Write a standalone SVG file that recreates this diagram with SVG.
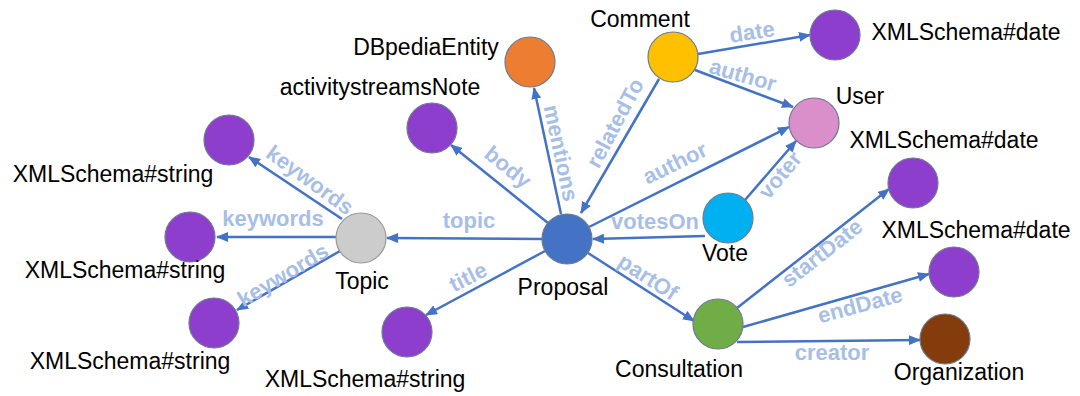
<svg xmlns="http://www.w3.org/2000/svg" width="1080" height="396" viewBox="0 0 1080 396">
<defs>
<style>
.e{stroke:#4472c4;stroke-width:2.5;fill:none;marker-end:url(#ah)}
.el{font-family:"Liberation Sans",Arial,sans-serif;font-weight:bold;font-size:22px;fill:#a7bfe6;text-anchor:middle;dominant-baseline:central}
.nl{font-family:"Liberation Sans",Arial,sans-serif;font-size:23px;fill:#000;text-anchor:middle}
circle{stroke:#6b7a90;stroke-width:1.2}
.str{fill:#8e3ecc}
</style>
<marker id="ah" viewBox="0 0 12 10" refX="11" refY="5" markerWidth="12" markerHeight="10" markerUnits="userSpaceOnUse" orient="auto">
<path d="M0,0 L12,5 L0,10 z" fill="#4472c4"/>
</marker>
</defs>
<rect width="1080" height="396" fill="#fff"/>
<g id="connectors">
<line class="e" x1="342" y1="219" x2="249" y2="157"/>
<line class="e" x1="336" y1="237" x2="217" y2="237"/>
<line class="e" x1="340" y1="251" x2="237" y2="310"/>
<line class="e" x1="542" y1="239" x2="387" y2="238"/>
<line class="e" x1="548" y1="223" x2="451" y2="145"/>
<line class="e" x1="561" y1="214" x2="534" y2="88"/>
<line class="e" x1="659" y1="79" x2="581" y2="213"/>
<line class="e" x1="589" y1="227" x2="789" y2="127"/>
<line class="e" x1="705" y1="236" x2="593" y2="239"/>
<line class="e" x1="745" y1="200" x2="796" y2="141"/>
<line class="e" x1="698" y1="54" x2="810" y2="35"/>
<line class="e" x1="695" y1="70" x2="793" y2="107"/>
<line class="e" x1="545" y1="251" x2="426" y2="315"/>
<line class="e" x1="588" y1="253" x2="694" y2="321"/>
<line class="e" x1="737" y1="308" x2="889" y2="189"/>
<line class="e" x1="743" y1="327" x2="929" y2="274"/>
<line class="e" x1="737" y1="342" x2="920" y2="340"/>
<text class="el" transform="translate(310,180) rotate(36)">keywords</text>
<text class="el" x="273" y="218">keywords</text>
<text class="el" transform="translate(283,275) rotate(-31)">keywords</text>
<text class="el" x="469" y="220">topic</text>
<text class="el" transform="translate(468,277) rotate(-27)">title</text>
<text class="el" transform="translate(508,167) rotate(39)">body</text>
<text class="el" transform="translate(561,153) rotate(78)">mentions</text>
<text class="el" transform="translate(615,123) rotate(-62)">relatedTo</text>
<text class="el" transform="translate(675,163) rotate(-26)">author</text>
<text class="el" x="655" y="221">votesOn</text>
<text class="el" transform="translate(780,175) rotate(-50)">voter</text>
<text class="el" transform="translate(752,32) rotate(-9)">date</text>
<text class="el" transform="translate(743,75) rotate(16)">author</text>
<text class="el" transform="translate(648,277) rotate(33)">partOf</text>
<text class="el" transform="translate(822,253) rotate(-38)">startDate</text>
<text class="el" transform="translate(860,305) rotate(-15)">endDate</text>
<text class="el" x="832" y="352">creator</text>
</g>
<g id="proposal"><circle cx="567" cy="239" r="25" fill="#4472c4"/><text class="nl" x="563" y="295">Proposal</text></g>
<g id="topic"><circle cx="361" cy="238" r="25" fill="#cccccc" style="stroke:#999"/><text class="nl" x="362" y="289">Topic</text></g>
<g id="kw1"><circle class="str" cx="229" cy="140" r="25"/><text class="nl" x="113" y="182">XMLSchema#string</text></g>
<g id="kw2"><circle class="str" cx="190" cy="237" r="25"/><text class="nl" x="125" y="278">XMLSchema#string</text></g>
<g id="kw3"><circle class="str" cx="214" cy="323" r="25"/><text class="nl" x="130" y="369">XMLSchema#string</text></g>
<g id="title"><circle class="str" cx="407" cy="332" r="25"/><text class="nl" x="365" y="387">XMLSchema#string</text></g>
<g id="note"><circle class="str" cx="432" cy="128" r="25"/><text class="nl" x="380" y="95">activitystreamsNote</text></g>
<g id="dbpedia"><circle cx="530" cy="62" r="25" fill="#ed7d31"/><text class="nl" x="426" y="55">DBpediaEntity</text></g>
<g id="comment"><circle cx="673" cy="57" r="25" fill="#ffc000"/><text class="nl" x="640" y="27">Comment</text></g>
<g id="commentdate"><circle class="str" cx="835" cy="35" r="25"/><text class="nl" x="966" y="40">XMLSchema#date</text></g>
<g id="user"><circle cx="814" cy="123" r="25" fill="#da8fca"/><text class="nl" x="860" y="104">User</text></g>
<g id="vote"><circle cx="728" cy="218" r="25" fill="#00b0f0"/><text class="nl" x="725" y="261">Vote</text></g>
<g id="consultation"><circle cx="718" cy="324" r="25" fill="#70ad47"/><text class="nl" x="679" y="377">Consultation</text></g>
<g id="startdate"><circle class="str" cx="913" cy="183" r="25"/><text class="nl" x="944" y="148">XMLSchema#date</text></g>
<g id="enddate"><circle class="str" cx="954" cy="272" r="25"/><text class="nl" x="976" y="238">XMLSchema#date</text></g>
<g id="organization"><circle cx="945" cy="339" r="25" fill="#843c0c"/><text class="nl" x="959" y="380">Organization</text></g>
</svg>
